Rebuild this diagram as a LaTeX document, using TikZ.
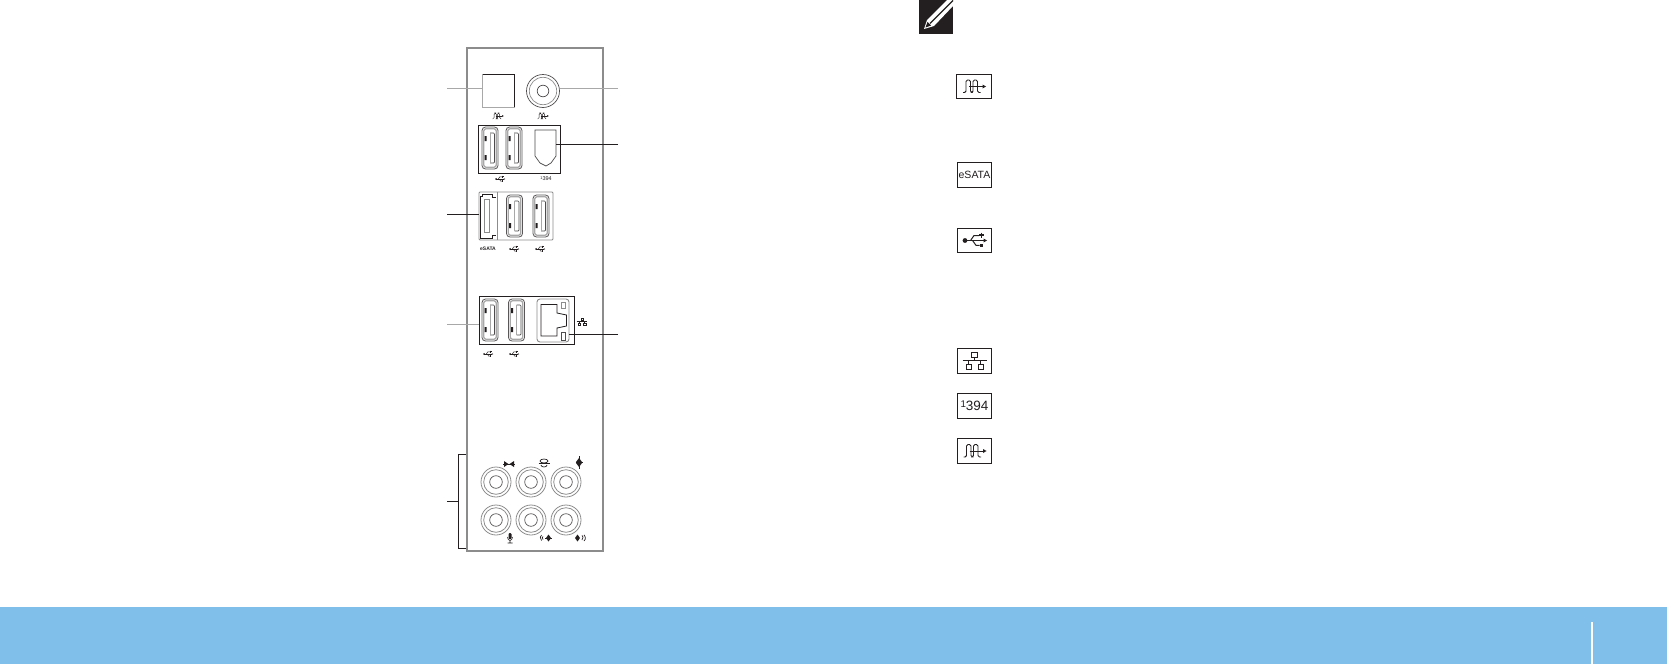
\documentclass[tikz,border=0pt]{standalone}
\usepackage{fontspec}
\setmainfont{Liberation Sans}
\newcommand\fwlabel{\raisebox{.2em}{\scalebox{.72}{1}}394}
\definecolor{banner}{HTML}{7FBFE9}
\definecolor{pgray}{HTML}{8C8C8C}
\definecolor{lgray}{HTML}{A8A8A8}
\definecolor{dk}{HTML}{231F20}
\tikzset{
  leaderg/.style={draw=lgray,line width=.9pt},
  leaderk/.style={draw=dk,line width=.8pt},
  framebox/.style={draw=dk,line width=.9pt,fill=white,minimum width=#1,inner sep=0pt,outer sep=0pt},
  iconbox/.style={draw=dk,line width=.9pt,inner sep=0pt,outer sep=0pt,minimum width=34.5pt,minimum height=24.5pt,text=dk},
  tinylabel/.style={font=\fontsize{5.5}{6}\selectfont,text=dk,inner sep=0pt},
  pics/usbport/.style={code={
    \draw[draw=dk!75,line width=.8pt,rounded corners=3.5pt] (-8,-21) rectangle (8,21);
    \draw[draw=lgray,line width=1.3pt,rounded corners=2.5pt] (-6.3,-19.3) rectangle (6.3,19.3);
    \draw[draw=dk!80,line width=.7pt,rounded corners=1pt] (0,-15) -- (4.5,-15) -- (4.5,15) -- (0,15);
    \draw[draw=lgray,line width=.6pt] (0,-15) -- (0,15);
    \fill[dk] (-5.5,-12) rectangle (-3.5,-7) (-5.5,7) rectangle (-3.5,12);
  }},
  pics/jack/.style={code={
    \draw[pgray,line width=.8pt] (0,0) circle (15);
    \draw[pgray,line width=.8pt] (0,0) circle (12.3);
    \draw[dk!75,line width=.7pt] (0,0) circle (6.3);
  }},
  pics/sigicon/.style={code={
    \draw[rounded corners=1.4pt] (-11,6) -- (-8,6) -- (-8,-6.5) -- (-3.5,-6.5) -- (-3.5,6) -- (-1,6) -- (-1,-6.5) -- (3.5,-6.5) -- (3.5,6) -- (6.5,6);
    \draw (-5,0) -- (9,0);
    \fill (12,0) -- (8.5,-2) -- (8.5,2) -- cycle;
  }},
  pics/usbicon/.style={code={
    \fill (-9.5,0) circle (2.4);
    \draw (-9,0) -- (9.5,0);
    \fill (12.5,0) -- (9,-2) -- (9,2) -- cycle;
    \draw (-4,0) -- (-.5,-5) -- (4.5,-5);
    \draw (-2,0) -- (1.5,4.8) -- (5,4.8);
    \fill (5,3.2) rectangle (8.2,6.4);
    \draw[line width=1.4*\pgflinewidth] (4.5,-5.5) -- (9.5,-5.5) (7,-8) -- (7,-3);
  }},
  pics/neticon/.style={code={
    \draw (-2.8,-9) rectangle (2.8,-4.5);
    \draw (0,-4.5) -- (0,-1);
    \draw (-12,-1) -- (12,-1);
    \draw (-6,-1) -- (-6,3) (6,-1) -- (6,3);
    \draw (-8.5,3) rectangle (-3.5,7.5);
    \draw (3.5,3) rectangle (8.5,7.5);
  }},
}
\begin{document}
\begin{tikzpicture}[x=1pt,y=-1pt]
\useasboundingbox (0,0) rectangle (1667,664);
% banner
\fill[banner] (0,607) rectangle (1667,664);
\fill[white] (1591,622) rectangle (1593,664);
% panel
\node[draw=pgray,line width=2.4pt,minimum width=136pt,minimum height=503pt,inner sep=0pt,outer sep=0pt] (panel) at (535,299.5) {};
% top connectors
\coordinate (lopt) at (447,88);
\coordinate (rcoax) at (618,88);
\node[draw=lgray,line width=.9pt,minimum width=32pt,minimum height=33pt,inner sep=0pt,outer sep=0pt] (optical) at (498.5,90.5) {};
\draw[dk,line width=.8pt] (optical.north west) -- (optical.north east) -- (optical.south east);
\node[circle,draw=dk!80,line width=.7pt,minimum size=33pt,inner sep=0pt,outer sep=0pt] (coax) at (543,91) {};
\draw[pgray,line width=.7pt] (543,91) circle (13.7);
\draw[dk!80,line width=.7pt] (543,91) circle (5.8);
\draw[leaderg] (lopt) -- (lopt -| optical.west);
\draw[leaderg] (rcoax) -- (rcoax -| coax.east);
\pic[dk,line width=.45pt,scale=.48] at (498,116) {sigicon};
\pic[dk,line width=.45pt,scale=.48] at (543,116) {sigicon};
% USB + 1394 box
\node[framebox=82pt,minimum height=48pt] (boxa) at (519,149) {};
\pic at (490,148) {usbport};
\pic at (514,148) {usbport};
\node[inner sep=0pt,outer sep=0pt,minimum width=21pt,minimum height=36pt] (fw) at (545.5,148) {};
\draw[dk!80,line width=.7pt] (535,130) -- (556,130) -- (556,156) -- (551,163) -- (546,166) -- (540,163) -- (535,156) -- cycle;
\coordinate (rfw) at (618,144);
\draw[leaderk] (rfw) -- (rfw -| fw.east);
\pic[dk,line width=.5pt,scale=.42] at (500,179) {usbicon};
\node[tinylabel,font=\fontsize{5.5}{6}\selectfont] (l1394) at (546,179) {\fwlabel};
% eSATA + USB box
\node[draw=pgray,line width=.9pt,rounded corners=1pt,minimum width=74pt,minimum height=48pt,inner sep=0pt,outer sep=0pt,fill=white] (boxb) at (516,216) {};
\draw[pgray,line width=.8pt] (497,192) -- (497,240);
\draw[dk,line width=.9pt] (492,194) -- (482,194) -- (482,196) -- (480,196) -- (480,238) -- (492,238) -- (492,235) -- (496,235);
\draw[dk,line width=.6pt] (492,194) -- (492,197) -- (496,197);
\draw[pgray,line width=.9pt] (484.5,199) rectangle (489.5,232);
\pic at (514.5,216) {usbport};
\pic at (541,216) {usbport};
\coordinate (lesata) at (447,214);
\draw[leaderk] (lesata) -- (lesata -| boxb.west);
\node[tinylabel,font=\bfseries\fontsize{5}{6}\selectfont] (lesat) at (488,249) {eSATA};
\pic[dk,line width=.5pt,scale=.42] at (514,249) {usbicon};
\pic[dk,line width=.5pt,scale=.42] at (540,249) {usbicon};
% USB + LAN box
\node[framebox=95pt,minimum height=48pt] (boxc) at (526.5,320) {};
\pic at (490,320) {usbport};
\pic at (516.5,320) {usbport};
\node[draw=pgray,line width=.9pt,rounded corners=3pt,minimum width=32pt,minimum height=43pt,inner sep=0pt,outer sep=0pt] (rj) at (553,320.5) {};
\draw[dk,line width=.8pt] (541,304.5) -- (557,304.5) -- (557,313) -- (566.5,315) -- (566.5,326) -- (557,328) -- (557,336) -- (541,336) -- cycle;
\draw[pgray,line width=.7pt] (561,302) rectangle (565,308);
\draw[dk!80,line width=.7pt] (561,332.5) rectangle (565,340);
\coordinate (lusb) at (447,324);
\coordinate (rrj) at (618,334);
\draw[leaderg] (lusb) -- (lusb -| boxc.west);
\draw[leaderk] (rrj) -- (rrj -| rj.east);
\pic[dk,line width=.5pt,scale=.42] at (488,354) {usbicon};
\pic[dk,line width=.5pt,scale=.42] at (514,354) {usbicon};
\pic[dk,line width=.45pt,scale=.45] at (582,322) {neticon};
% audio jacks
\foreach \x in {496,531,566}{\foreach \y in {482,520}{\pic at (\x,\y) {jack};}}
\coordinate (lbr) at (447,501);
\coordinate (brm) at (458,501);
\coordinate (brt) at (466,454);
\coordinate (brb) at (466,548);
\draw[leaderk] (brt) -- (brt -| brm) -- (brb -| brm) -- (brb);
\draw[leaderk] (lbr) -- (brm);
% audio glyphs
\fill[dk] (504,461) -- (508.5,464) -- (504,467) -- cycle (514,461) -- (509.5,464) -- (514,467) -- cycle;
\draw[dk,line width=.5pt] (503,464) -- (515,464);
\draw[dk,line width=.7pt] (544,461) ellipse (4 and 2);
\draw[dk,line width=.9pt] (538.5,463.5) -- (549.5,463.5);
\draw[dk,line width=.7pt] (541,465) arc (180:0:3 and 2);
\fill[dk] (576,462) -- (579,458) -- (582,462) -- cycle (576,463) -- (579,467) -- (582,463) -- cycle;
\draw[dk,line width=.5pt] (579,456) -- (579,469);
\draw[dk,line width=.5pt] (575.5,462.5) -- (582.5,462.5);
\fill[dk,rounded corners=1pt] (508.5,533) rectangle (511.5,539);
\draw[dk,line width=.6pt] (507.5,537) arc (180:0:2.5 and 3.5) (510,540.5) -- (510,543) (507.5,543) -- (512.5,543);
\draw[dk,line width=.7pt] (541.5,540.5) arc (130:230:3.5);
\draw[dk,line width=.7pt] (543,539.5) arc (130:230:2);
\fill[dk] (546,538) -- (548.5,534.5) -- (551,538) -- (548.5,541.5) -- cycle;
\draw[dk,line width=.5pt] (545,538) -- (552,538);
\fill[dk] (575,538) -- (577.5,534.5) -- (580,538) -- (577.5,541.5) -- cycle;
\draw[dk,line width=.7pt] (582,540) arc (50:-50:3);
\draw[dk,line width=.7pt] (584,541) arc (50:-50:4);
% note pencil
\node[fill=dk,minimum width=34pt,minimum height=34pt,inner sep=0pt,outer sep=0pt] (note) at (936,17) {};
\fill[white] (924,29) -- (927,20) -- (947,0) -- (953,0) -- (953,6) -- (934,26) -- cycle;
\fill[dk] (925.5,27.5) -- (927.5,22) -- (931,25.5) -- cycle;
\draw[dk,line width=1.1pt] (930,23.5) -- (953,.5);
% legend icons
\node[iconbox] (i1) at (974,86.5) {};
\pic[dk,line width=.9pt] at (974,86.5) {sigicon};
\node[iconbox] (i2) at (974.5,175) {\fontsize{10.5}{12}\selectfont eSATA};
\node[iconbox] (i3) at (974.5,240.5) {};
\pic[dk,line width=1pt] at (974.5,240.5) {usbicon};
\node[iconbox] (i4) at (974.5,361) {};
\pic[dk,line width=.9pt] at (974.5,361.5) {neticon};
\node[iconbox] (i5) at (974.5,406) {\fontsize{13.5}{13.5}\selectfont \fwlabel};
\node[iconbox] (i6) at (974.5,451) {};
\pic[dk,line width=.9pt] at (974.5,451) {sigicon};
\end{tikzpicture}
\end{document}
